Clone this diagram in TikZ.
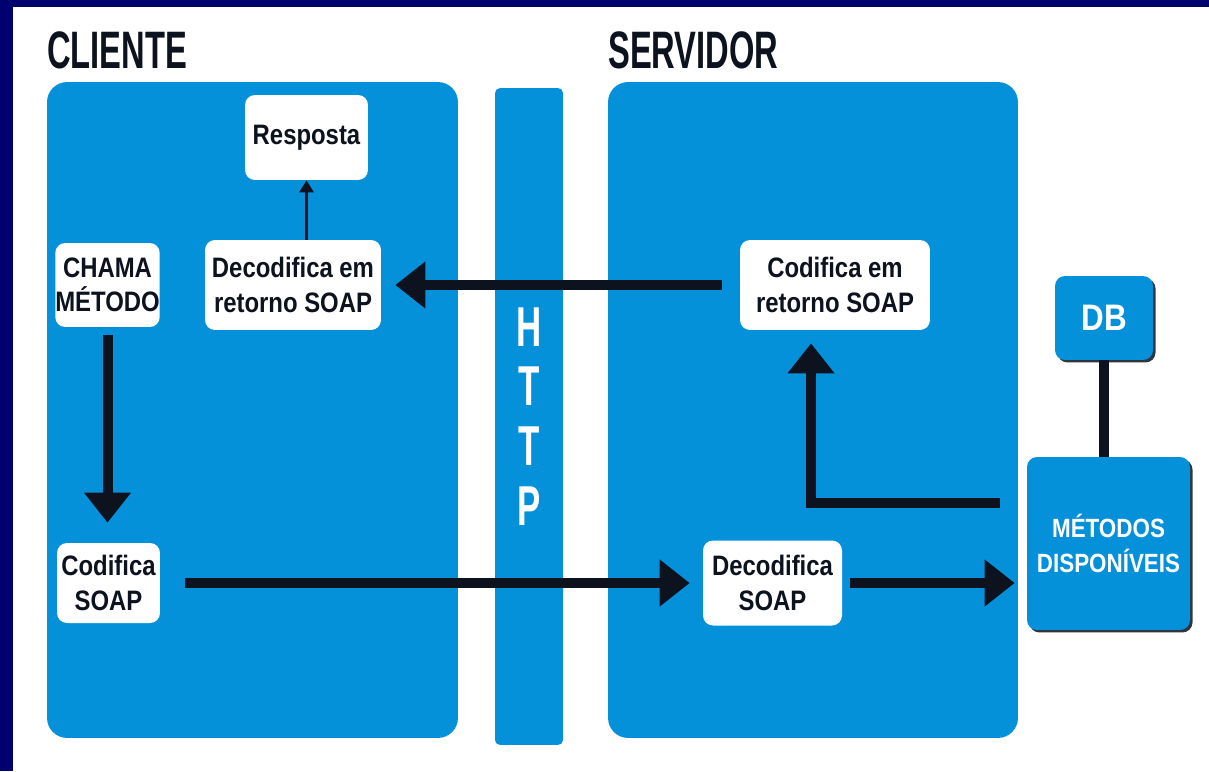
\documentclass[tikz,border=0pt]{standalone}
\usepackage{fontspec}
\setmainfont{Liberation Sans}
\newfontfamily\headfont{Liberation Sans}[FakeStretch=0.62]
\newfontfamily\boxfont{Liberation Sans}[FakeStretch=0.85]
\usetikzlibrary{calc,arrows.meta,shadows}
\definecolor{framenavy}{RGB}{0,0,110}
\definecolor{panelblue}{RGB}{5,145,218}
\definecolor{inkdark}{RGB}{12,18,30}

\begin{document}
\begin{tikzpicture}[x=0.02cm,y=-0.02cm,
  panel/.style={fill=panelblue,rounded corners=0.4cm,inner sep=0pt},
  httpbar/.style={fill=panelblue,rounded corners=0.1cm,inner sep=0pt,text=white,align=center,
    font=\headfont\bfseries\fontsize{32}{34}\selectfont},
  whitebox/.style={fill=white,rounded corners=0.2cm,inner sep=0pt,align=center,text=inkdark,
    font=\boxfont\bfseries\fontsize{16}{19.5}\selectfont},
  bluebox/.style={fill=panelblue,rounded corners=0.2cm,inner sep=0pt,align=center,text=white,
    drop shadow={shadow xshift=0.05cm,shadow yshift=-0.05cm,fill=inkdark,opacity=0.85}},
  title/.style={anchor=base west,inner sep=0pt,text=inkdark,
    font=\headfont\bfseries\fontsize{30}{30}\selectfont},
  bigarrow/.style={draw=inkdark,line width=0.2cm,-{Triangle[length=0.6cm,width=0.9cm]}},
  thinarrow/.style={draw=inkdark,line width=0.06cm,-{Triangle[length=0.24cm,width=0.28cm]}}]
  \useasboundingbox (0,0) rectangle (1209,771);

  % frame edges
  \fill[framenavy] (0,0) rectangle (1209,7);
  \fill[framenavy] (0,0) rectangle (13,771);

  % the three columns
  \node[panel,minimum width=8.22cm,minimum height=13.12cm] (cliente) at (252.5,410) {};
  \node[httpbar,minimum width=1.36cm,minimum height=13.14cm] (http) at (529,416.5) {H\\T\\T\\P};
  \node[panel,minimum width=8.2cm,minimum height=13.12cm] (servidor) at (813,410) {};
  \node[title] (tcliente) at (47,68) {CLIENTE};
  \node[title] (tservidor) at (608,68) {SERVIDOR};

  % client side
  \node[whitebox,minimum width=2.46cm,minimum height=1.7cm] (resposta) at (306.5,137.5) {Resposta};
  \node[whitebox,minimum width=3.52cm,minimum height=1.8cm] (decret) at (293,285) {Decodifica em\\retorno SOAP};
  \node[whitebox,minimum width=2.02cm,minimum height=1.68cm] (chama) at (107.5,285) {CHAMA\\MÉTODO};
  \node[whitebox,minimum width=2.06cm,minimum height=1.6cm] (codsoap) at (108.5,583) {Codifica\\SOAP};

  % server side
  \node[whitebox,minimum width=3.8cm,minimum height=1.8cm] (codret) at (835,285) {Codifica em\\retorno SOAP};
  \node[whitebox,minimum width=2.78cm,minimum height=1.7cm] (decsoap) at (772.5,583) {Decodifica\\SOAP};
  \node[bluebox,minimum width=1.96cm,minimum height=1.68cm,
    font=\boxfont\bfseries\fontsize{21}{21}\selectfont] (db) at (1104,318) {DB};
  \node[bluebox,minimum width=3.26cm,minimum height=3.46cm,
    font=\boxfont\bfseries\fontsize{15}{20}\selectfont] (metodos) at (1108.5,543.5) {MÉTODOS\\DISPONÍVEIS};

  % flow of the call
  \draw[bigarrow,shorten <=0.16cm,shorten >=0.4cm] (chama.south) -- (chama.south |- codsoap.north);
  \draw[bigarrow,shorten <=0.5cm,shorten >=0.26cm] (codsoap.east) -- (decsoap.west);
  \draw[bigarrow,shorten <=0.16cm,shorten >=0.24cm] (decsoap.east) -- (decsoap.east -| metodos.west);
  \draw[inkdark,line width=0.2cm] (db.south) -- (db.south |- metodos.north);

  % flow of the answer
  \coordinate (retorno) at ($(metodos.west)+(-27,-40.5)$);
  \draw[bigarrow,shorten >=0.26cm] (retorno) -| ($(codret.south)+(-24,0)$);
  \draw[bigarrow,shorten <=0.36cm,shorten >=0.28cm] (codret.west) -- (decret.east);
  \draw[thinarrow] (resposta.south |- decret.north) -- (resposta.south);
\end{tikzpicture}
\end{document}
